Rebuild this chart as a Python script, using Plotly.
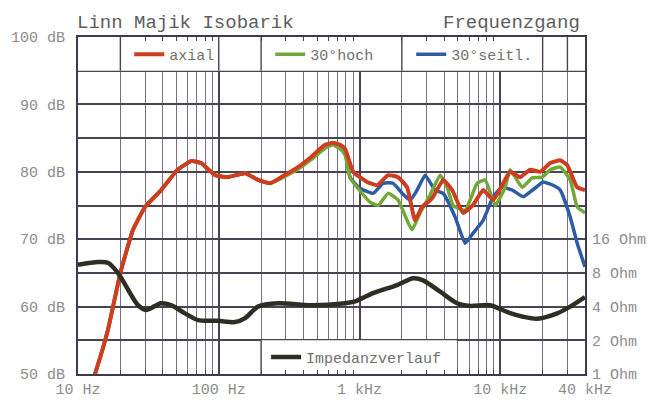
import plotly.graph_objects as go

# values (frequency in Hz, level in dB, impedance in Ohm)
axial_f = [12, 13.2, 16.3, 20, 24.6, 30, 39, 51, 64, 75, 94, 116, 154, 190, 232, 277, 366, 453,
           569, 649, 728, 790, 901, 1132, 1334, 1597, 1880, 2178, 2483, 2786, 3074, 3336, 3930,
           4552, 5450, 6416, 7560, 8908, 10490, 11760, 13840, 16320, 19220, 22640, 26680, 29870,
           35210, 40000]
axial_db = [47.5, 50, 56.5, 65, 71.4, 74.8, 77.3, 80.3, 81.6, 81.3, 79.5, 79.2, 79.8, 78.8, 78.3,
            79.2, 80.7, 82.2, 84.0, 84.3, 84.0, 83.4, 80.0, 78.5, 78.0, 79.5, 79.2, 77.7, 72.8,
            74.8, 75.5, 76.3, 78.8, 77.3, 73.9, 75.1, 77.3, 75.8, 78.3, 80.0, 79.2, 80.3, 80.0,
            81.3, 81.7, 81.0, 77.7, 77.3]

hoch_f = [12, 13.2, 16.3, 20, 24.6, 30, 39, 51, 64, 75, 94, 116, 154, 190, 232, 277, 366, 453,
          569, 649, 728, 790, 857, 996, 1188, 1355, 1597, 1880, 2178, 2365, 2697, 3177, 3741,
          4197, 4627, 5636, 6855, 7816, 9200, 10830, 11760, 14310, 16860, 19860, 22640, 26680,
          31400, 35210, 40000]
hoch_db = [47.5, 50, 56.5, 65, 71.4, 74.8, 77.3, 80.3, 81.6, 81.3, 79.5, 79.2, 79.8, 78.8, 78.3,
           79.0, 80.4, 81.8, 83.5, 84.0, 83.4, 82.5, 79.1, 77.3, 75.5, 75.0, 76.8, 75.8, 72.8,
           71.4, 73.9, 76.6, 79.5, 77.7, 75.0, 74.3, 78.3, 78.8, 75.0, 77.7, 80.3, 77.7, 79.1,
           79.2, 80.3, 80.7, 78.8, 74.8, 73.9]

seitl_f = [12, 13.2, 16.3, 20, 24.6, 30, 39, 51, 64, 75, 94, 116, 154, 190, 232, 277, 366, 453,
           569, 649, 728, 790, 857, 996, 1250, 1472, 1733, 2009, 2290, 2567, 2924, 3444, 3930,
           4779, 5636, 6416, 7560, 8908, 10310, 12160, 14550, 17700, 20180, 23770, 26680, 31400,
           35210, 40000]
seitl_db = [47.5, 50, 56.5, 65, 71.4, 74.8, 77.3, 80.3, 81.6, 81.3, 79.5, 79.2, 79.8, 78.8, 78.3,
            79.1, 80.6, 82.0, 83.8, 84.1, 83.7, 83.0, 79.2, 77.6, 76.8, 78.3, 78.3, 76.8, 75.8,
            77.3, 79.5, 77.3, 76.8, 73.3, 69.4, 70.9, 72.8, 76.3, 77.7, 77.3, 76.3, 77.6, 78.5,
            78.0, 77.3, 73.3, 69.4, 65.9]

imp_f = [10, 13.9, 16.3, 19.2, 22.7, 26.7, 30.4, 38.9, 45.8, 57.6, 71.3, 98.9, 130.6, 154, 190,
         264, 453, 790, 930, 1249, 1850, 2405, 2833, 3741, 4941, 6110, 8476, 11190, 14550, 18290,
         25370, 31400, 40000]
imp_ohm = [9.45, 9.99, 9.85, 8.0, 5.66, 4.12, 3.73, 4.29, 4.12, 3.48, 3.03, 2.99, 2.91, 3.16,
           4.0, 4.29, 4.12, 4.29, 4.45, 5.28, 6.23, 7.16, 6.87, 5.43, 4.29, 4.06, 4.12, 3.58,
           3.25, 3.12, 3.48, 4.0, 4.86]

x_ticks = [10, 100, 1000, 10000, 40000]
x_labels = ['10 Hz', '100 Hz', '1 kHz', '10 kHz', '40 kHz']
x_minor = [20, 30, 40, 50, 60, 70, 80, 90, 200, 300, 400, 500, 600, 700, 800, 900,
           2000, 3000, 4000, 5000, 6000, 7000, 8000, 9000, 20000, 30000]
db_ticks = [50, 60, 70, 80, 90, 100]
db_labels = ['50 dB', '60 dB', '70 dB', '80 dB', '90 dB', '100 dB']
ohm_ticks = [1, 2, 4, 8, 16]
ohm_labels = ['1 Ohm', '2 Ohm', '4 Ohm', '8 Ohm', '16 Ohm']
# gridlines that still run through the white legend bands
top_band_lines = [20, 100, 200, 2000, 20000, 30000]
bottom_band_lines = [200]

mono = 'Liberation Mono'
grid_dark = '#4a4452'
grid_minor = '#7d6f86'

fig = go.Figure()

# gridline pieces drawn through the legend bands
def band_xy(freqs, y0, y1):
    xs, ys = [], []
    for f in freqs:
        xs += [f, f, None]
        ys += [y0, y1, None]
    return xs, ys

bx, by = band_xy(top_band_lines, 95, 100)
fig.add_trace(go.Scatter(x=bx, y=by, mode='lines', line=dict(color=grid_dark, width=1.4),
                         hoverinfo='skip', showlegend=False))
bx, by = band_xy(bottom_band_lines, 50, 55)
fig.add_trace(go.Scatter(x=bx, y=by, mode='lines', line=dict(color=grid_dark, width=1.4),
                         hoverinfo='skip', showlegend=False))

fig.add_trace(go.Scatter(x=seitl_f, y=seitl_db, mode='lines', name='30°seitl.', legendrank=3,
                         line=dict(color='#2d5ca6', width=3.5, shape='spline', smoothing=0.4)))
fig.add_trace(go.Scatter(x=hoch_f, y=hoch_db, mode='lines', name='30°hoch', legendrank=2,
                         line=dict(color='#72a838', width=3.5, shape='spline', smoothing=0.4)))
fig.add_trace(go.Scatter(x=axial_f, y=axial_db, mode='lines', name='axial', legendrank=1,
                         line=dict(color='#cf3d1f', width=4, shape='spline', smoothing=0.4)))
fig.add_trace(go.Scatter(x=imp_f, y=imp_ohm, yaxis='y2', mode='lines', name='Impedanzverlauf',
                         legend='legend2',
                         line=dict(color='#2e2e24', width=4.5, shape='spline', smoothing=0.8)))

# white bands behind the legends, covering the finer gridlines
fig.add_shape(type='rect', xref='x', yref='y', x0=10, x1=40000, y0=95, y1=100,
              fillcolor='white', line_width=0, layer='between')
fig.add_shape(type='rect', xref='x', yref='y', x0=200, x1=4900, y0=50, y1=55,
              fillcolor='white', line_width=0, layer='between')

fig.add_annotation(text='Linn Majik Isobarik', xref='paper', yref='paper', x=0, y=1.08,
                   xanchor='left', yanchor='top', xshift=-3, showarrow=False,
                   font=dict(family=mono, size=19, color='#5e5e5e'))
fig.add_annotation(text='Frequenzgang', xref='paper', yref='paper', x=0.995, y=1.08,
                   xanchor='right', yanchor='top', showarrow=False,
                   font=dict(family=mono, size=19, color='#5e5e5e'))

# the page adds 8 px of body margin, so the margins are shifted up/left by that much
fig.update_layout(
    width=663, height=407,
    margin=dict(l=70, r=86, t=29, b=41, autoexpand=False),
    paper_bgcolor='white', plot_bgcolor='white',
    font=dict(family=mono, size=15, color='#8c8c8c'),
    xaxis=dict(type='log', range=[1, 4.60206], tickvals=x_ticks, ticktext=x_labels,
               showgrid=True, gridcolor=grid_dark, gridwidth=1.6,
               minor=dict(tickvals=x_minor, showgrid=True, gridcolor=grid_minor, gridwidth=1.2,
                          ticks='inside', ticklen=4, tickcolor=grid_dark),
               showline=True, linecolor='#3c3a52', linewidth=2, mirror='ticks',
               ticks='', zeroline=False, automargin=False),
    yaxis=dict(range=[50, 100], tickvals=db_ticks, ticktext=db_labels,
               showgrid=True, gridcolor=grid_dark, gridwidth=1.5,
               minor=dict(dtick=5, showgrid=True, gridcolor=grid_dark, gridwidth=1.5),
               showline=True, linecolor='#3c3a52', linewidth=2, mirror=True,
               ticks='', ticklabelstandoff=8, zeroline=False, automargin=False),
    yaxis2=dict(type='log', range=[0, 3.0103], overlaying='y', side='right',
                tickvals=ohm_ticks, ticktext=ohm_labels, showgrid=False, zeroline=False,
                ticks='', ticklabelstandoff=6, automargin=False),
    legend=dict(orientation='h', x=0.101, y=0.948, xanchor='left', yanchor='middle',
                bgcolor='rgba(0,0,0,0)', entrywidth=96, entrywidthmode='pixels',
                font=dict(family=mono, size=15, color='#707070'), traceorder='normal'),
    legend2=dict(orientation='h', x=0.371, y=0.05, xanchor='left', yanchor='middle',
                 bgcolor='rgba(0,0,0,0)',
                 font=dict(family=mono, size=15, color='#707070')),
    showlegend=True,
)

fig.write_html("out.html")
